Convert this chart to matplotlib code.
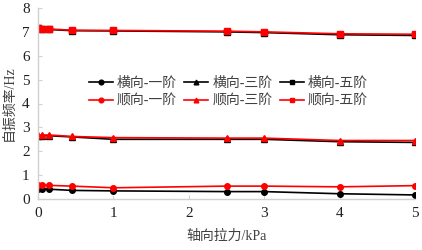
import matplotlib
matplotlib.use("Agg")
import matplotlib.pyplot as plt

plt.rcParams['font.serif'] = ['Times New Roman', 'Liberation Serif', 'Tinos', 'Nimbus Roman',
                              'TeX Gyre Termes', 'Noto Serif', 'DejaVu Serif']
plt.rcParams['font.family'] = ['serif', 'Noto Sans CJK SC', 'DejaVu Sans']

x = [0, 0.05, 0.15, 0.45, 1, 2.5, 3, 4, 5]
h1 = [0.41, 0.41, 0.41, 0.36, 0.34, 0.31, 0.31, 0.22, 0.17]
h3 = [2.65, 2.65, 2.65, 2.6, 2.5, 2.5, 2.5, 2.4, 2.37]
h5 = [7.15, 7.12, 7.1, 7.05, 7.04, 7.0, 6.97, 6.88, 6.85]
s1 = [0.58, 0.58, 0.57, 0.54, 0.47, 0.54, 0.54, 0.51, 0.56]
s3 = [2.68, 2.68, 2.68, 2.62, 2.57, 2.55, 2.55, 2.45, 2.45]
s5 = [7.17, 7.14, 7.12, 7.07, 7.06, 7.03, 7.0, 6.92, 6.9]

labels_h = ['横向-一阶', '横向-三阶', '横向-五阶']
labels_s = ['顺向-一阶', '顺向-三阶', '顺向-五阶']
xlabel = '轴向拉力/kPa'
ylabel = '自振频率/Hz'

fig = plt.figure(figsize=(4.22, 2.5), dpi=100)
ax = fig.add_axes([38/422, 1 - 199/250, (415-38)/422, (199-8)/250])

markers = ['o', '^', 's']
handles = []
for hs, ss, mk, lh, ls in zip([h1, h3, h5], [s1, s3, s5], markers, labels_h, labels_s):
    a, = ax.plot(x, hs, color='black', marker=mk, markersize=4, linewidth=1.2, label=lh)
    b, = ax.plot(x, ss, color='#ff0000', marker=mk, markersize=4, linewidth=1.2, label=ls)
    handles += [a, b]

ax.set_xlim(0, 5)
ax.set_ylim(0, 8)
ax.set_xticks(range(0, 6))
ax.set_yticks(range(0, 9))
for sp in ['top', 'right']:
    ax.spines[sp].set_visible(False)
for sp in ['left', 'bottom']:
    ax.spines[sp].set_color('#d0d0d0')
    ax.spines[sp].set_linewidth(1.0)
ax.tick_params(direction='in', length=3, color='#d0d0d0', labelsize=11, pad=6)
for lab in ax.get_xticklabels() + ax.get_yticklabels():
    lab.set_color('#202020')
ax.set_xlabel(xlabel, fontsize=10, labelpad=7, color='#404040')
ax.set_ylabel(ylabel, fontsize=10, labelpad=5, color='#404040')

leg = ax.legend(handles=handles, ncol=3, loc='center', bbox_to_anchor=(0.505, 0.56),
                frameon=False, fontsize=10, handlelength=1.7, handletextpad=0.3,
                columnspacing=0.55, labelspacing=0.35, markerscale=0.85)
for t in leg.get_texts():
    t.set_color('#404040')

fig.savefig('out.png', dpi=100)
